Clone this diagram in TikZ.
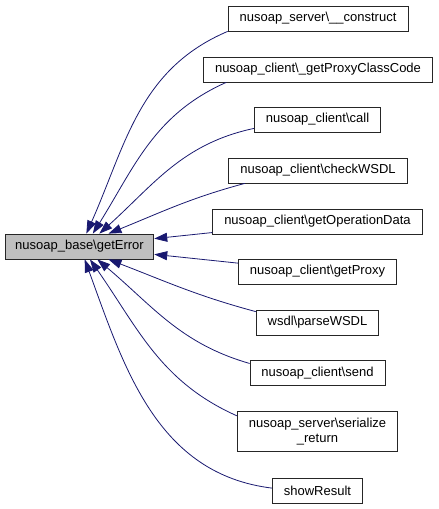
\documentclass[tikz,border=0pt]{standalone}
\usepackage{fontspec}
\setmainfont{Liberation Sans}
\usetikzlibrary{arrows.meta}
\definecolor{CallBlue}{HTML}{191970}
\definecolor{FocusGray}{HTML}{BFBFBF}
\tikzset{
  fn/.style={draw=black!85, fill=white, line width=0.8pt, font=\fontsize{13}{15.6}\selectfont,
    minimum height=25pt, inner xsep=11.5pt, inner ysep=6pt, align=center},
  calledge/.style={draw=CallBlue, line width=0.8pt, {Triangle[length=13pt,width=9pt]}-}
}

\begin{document}
\begin{tikzpicture}[x=1pt, y=1pt]
\useasboundingbox (0,0) rectangle (439,509);

% the documented function
\node[fn, fill=FocusGray, inner xsep=10pt] (getError) at (79.5,262.5) {nusoap\_base\textbackslash getError};

% its callers
\node[fn] (srvConstruct) at (318,490.5) {nusoap\_server\textbackslash\_\_construct};
\node[fn] (cliProxyCode) at (318,439.5) {nusoap\_client\textbackslash\_getProxyClassCode};
\node[fn] (cliCall) at (317.5,389.5) {nusoap\_client\textbackslash call};
\node[fn] (cliCheck) at (318,338.5) {nusoap\_client\textbackslash checkWSDL};
\node[fn] (cliOpData) at (317.5,287.5) {nusoap\_client\textbackslash getOperationData};
\node[fn] (cliProxy) at (317.5,237.5) {nusoap\_client\textbackslash getProxy};
\node[fn] (wsdlParse) at (317.5,186.5) {wsdl\textbackslash parseWSDL};
\node[fn] (cliSend) at (317.5,136) {nusoap\_client\textbackslash send};
\node[fn] (srvSerialize) at (317.5,77.5) {nusoap\_server\textbackslash serialize\\\_return};
\node[fn] (showRes) at (317.5,18.5) {showResult};

% call edges
\draw[calledge] (getError.62) to[out=66,in=203] (srvConstruct.south west);
\draw[calledge] (getError.44) to[out=58,in=204] (cliProxyCode.188);
\draw[calledge] (getError.33) to[out=42,in=192] (cliCall.188);
\draw[calledge] (getError.24) to[out=22,in=195] (cliCheck.190);
\draw[calledge] (getError.6) to[out=6,in=186] (cliOpData.186);
\draw[calledge] (getError.-6) to[out=-6,in=174] (cliProxy.174);
\draw[calledge] (getError.-24) to[out=-21,in=165] (wsdlParse.170);
\draw[calledge] (getError.-36) to[out=-40,in=164] (cliSend.172);
\draw[calledge] (getError.-51) to[out=-55,in=156] (srvSerialize.169);
\draw[calledge] (getError.-68) to[out=-70,in=173] (showRes.177);
\end{tikzpicture}
\end{document}
